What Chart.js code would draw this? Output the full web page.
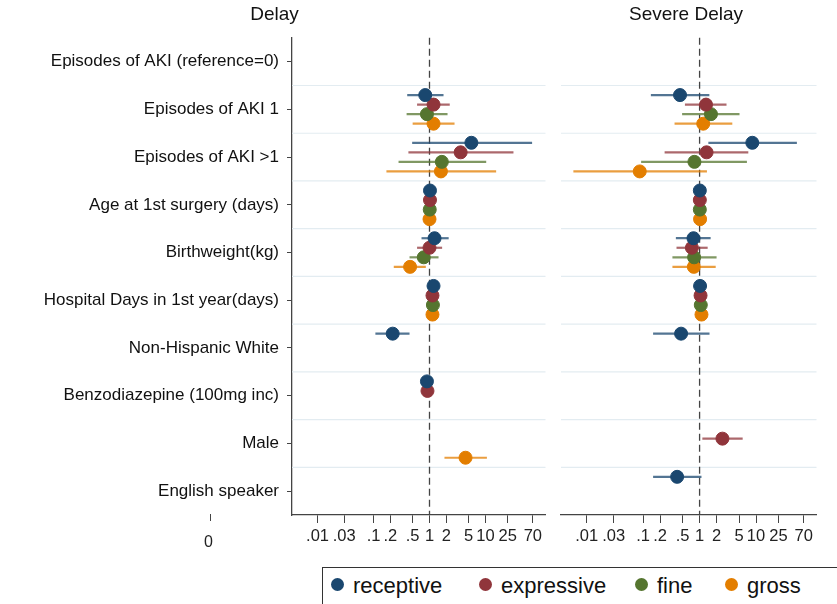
<!DOCTYPE html>
<html>
<head>
<meta charset="utf-8">
<script src="https://cdn.jsdelivr.net/npm/chart.js@4"></script>
<style>
  body { margin: 0; background: #fff; width: 837px; height: 604px; overflow: hidden; position: relative; font-family: "Liberation Sans", Arial, sans-serif; }
  canvas { position: absolute; top: 0; }
  #legend { position: absolute; left: 322px; top: 567px; width: 540px; height: 40px; border: 1px solid #333; box-sizing: border-box; font-size: 22px; color: #111; }
  #legend span.item { position: absolute; top: 5px; white-space: nowrap; }
  #legend i { display: inline-block; width: 13px; height: 13px; border-radius: 50%; margin-right: 9px; vertical-align: 2px; }
  #zero { position: absolute; left: 204px; top: 533px; font-size: 16px; color: #222; }
  #zerotick { position: absolute; left: 210px; top: 514px; width: 1px; height: 7px; background: #444; }
</style>
</head>
<body>
<canvas id="delayChart" width="553" height="560" style="left:0;width:553px;height:560px"></canvas>
<canvas id="severeChart" width="276" height="560" style="left:548px;width:276px;height:560px"></canvas>
<div id="zerotick"></div>
<div id="zero">0</div>
<div id="legend">
  <span class="item" style="left:8px"><i style="background:#1a476f"></i>receptive</span>
  <span class="item" style="left:156px"><i style="background:#90353b"></i>expressive</span>
  <span class="item" style="left:312px"><i style="background:#55752f"></i>fine</span>
  <span class="item" style="left:402px"><i style="background:#e37e00"></i>gross</span>
</div>
<script>
// Categorias (linhas)
const rows = ['Episodes of AKI (reference=0)', 'Episodes of AKI 1', 'Episodes of AKI >1',
  'Age at 1st surgery (days)', 'Birthweight(kg)', 'Hospital Days in 1st year(days)',
  'Non-Hispanic White', 'Benzodiazepine (100mg inc)', 'Male', 'English speaker'];
const xTicks = [0.01, 0.03, 0.1, 0.2, 0.5, 1, 2, 5, 10, 25, 70];
const seriesNames = ['receptive', 'expressive', 'fine', 'gross'];
const seriesColors = ['#1a476f', '#90353b', '#55752f', '#e37e00'];
const ciColors = ['rgba(26,71,111,0.75)', 'rgba(144,53,59,0.75)', 'rgba(85,117,47,0.75)', 'rgba(227,126,0,0.75)'];

// Delay: [estimativa, inferior, superior] por linha
const delayReceptive = [null, [0.84, 0.40, 1.78], [5.6, 0.49, 68], [1.02, 0.99, 1.05], [1.23, 0.72, 2.2], [1.18, 1.15, 1.21], [0.22, 0.108, 0.44], [0.90, 0.88, 0.92], null, null];
const delayExpressive = [null, [1.18, 0.60, 2.3], [3.6, 0.42, 31.6], [1.02, 0.99, 1.05], [1.0, 0.60, 1.68], [1.13, 1.10, 1.16], null, [0.92, 0.90, 0.94], null, null];
const delayFine = [null, [0.90, 0.39, 2.1], [1.66, 0.28, 10.3], [1.01, 0.98, 1.04], [0.79, 0.44, 1.45], [1.15, 1.12, 1.18], null, null, null, null];
const delayGross = [null, [1.18, 0.50, 2.8], [1.6, 0.17, 15.5], [1.0, 0.97, 1.03], [0.45, 0.23, 0.86], [1.13, 1.10, 1.16], null, null, [4.4, 1.85, 10.6], null];

// Severe Delay
const severeReceptive = [null, [0.45, 0.137, 1.49], [8.6, 1.43, 53], [1.01, 0.98, 1.04], [0.78, 0.38, 1.57], [1.02, 0.99, 1.05], [0.47, 0.15, 1.5], null, null, [0.40, 0.15, 1.08]];
const severeExpressive = [null, [1.3, 0.55, 3.0], [1.33, 0.24, 7.3], [1.01, 0.98, 1.04], [0.73, 0.39, 1.39], [1.04, 1.01, 1.07], null, null, [2.54, 1.12, 5.8], null];
const severeFine = [null, [1.59, 0.49, 5.1], [0.81, 0.092, 6.9], [1.01, 0.98, 1.04], [0.80, 0.33, 2.0], [1.05, 1.02, 1.08], null, null, null, null];
const severeGross = [null, [1.16, 0.36, 3.8], [0.087, 0.0058, 1.35], [1.02, 0.99, 1.05], [0.79, 0.33, 1.93], [1.08, 1.05, 1.11], null, null, null, null];

function buildDatasets(series) {
    return series.map((arr, s) => {
        const pts = [];
        arr.forEach((v, i) => {
            if (v) pts.push({ x: v[0], y: i + 0.2 * (s + 1), lo: v[1], hi: v[2] });
        });
        return {
            label: seriesNames[s],
            data: pts,
            backgroundColor: seriesColors[s],
            borderColor: seriesColors[s],
            pointRadius: 6.5,
            pointHoverRadius: 6.5,
            ciColor: ciColors[s]
        };
    });
}

// Linhas de separação, linha de referência em 1 e intervalos de confiança
const forestPlugin = {
    id: 'forest',
    beforeDatasetsDraw(chart) {
        const { ctx, chartArea, scales: { x, y } } = chart;
        ctx.save();
        ctx.strokeStyle = '#e3ecf1';
        ctx.lineWidth = 1.2;
        for (let i = 1; i < rows.length; i++) {
            const py = y.getPixelForValue(i);
            ctx.beginPath(); ctx.moveTo(chartArea.left, py); ctx.lineTo(chartArea.right, py); ctx.stroke();
        }
        ctx.strokeStyle = '#444';
        ctx.lineWidth = 1.3;
        ctx.setLineDash([7, 4]);
        const px = x.getPixelForValue(1);
        ctx.beginPath(); ctx.moveTo(px, chartArea.top); ctx.lineTo(px, chartArea.bottom); ctx.stroke();
        ctx.setLineDash([]);
        chart.data.datasets.forEach(ds => {
            ctx.strokeStyle = ds.ciColor;
            ctx.lineWidth = 2.2;
            ds.data.forEach(p => {
                const py = y.getPixelForValue(p.y);
                ctx.beginPath();
                ctx.moveTo(x.getPixelForValue(p.lo), py);
                ctx.lineTo(x.getPixelForValue(p.hi), py);
                ctx.stroke();
            });
        });
        ctx.restore();
    }
};

function makeChart(id, title, series, showLabels, yWidth, padRight) {
    return new Chart(document.getElementById(id), {
        type: 'scatter',
        data: { datasets: buildDatasets(series) },
        plugins: [forestPlugin],
        options: {
            responsive: false,
            animation: false,
            layout: { padding: { left: 0, right: padRight, top: 0, bottom: 0 } },
            plugins: {
                legend: { display: false },
                tooltip: { enabled: false },
                title: {
                    display: true, text: title, color: '#111',
                    font: { family: 'Liberation Sans', size: 19, weight: 'normal' },
                    padding: { top: 3, bottom: 12 }
                }
            },
            scales: {
                x: {
                    type: 'logarithmic',
                    min: 0.0035, max: 118,
                    afterBuildTicks: s => { s.ticks = xTicks.map(v => ({ value: v })); },
                    afterFit: s => { s.height = 45; },
                    ticks: {
                        autoSkip: false, maxRotation: 0, color: '#222', padding: 4,
                        font: { family: 'Liberation Sans', size: 16.5 },
                        callback: v => (v < 1 ? String(v).replace(/^0/, '') : String(v))
                    },
                    grid: { drawOnChartArea: false, tickLength: 8, color: '#444' },
                    border: { color: '#444', width: 1.3 }
                },
                y: {
                    min: 0, max: 10, reverse: true,
                    afterBuildTicks: s => { s.ticks = rows.map((r, i) => ({ value: i + 0.5 })); },
                    afterFit: s => { s.width = yWidth; },
                    ticks: {
                        display: showLabels, autoSkip: false, color: '#111', padding: 8,
                        font: { family: 'Liberation Sans', size: 17 },
                        callback: v => rows[Math.floor(v)]
                    },
                    grid: { display: showLabels, drawOnChartArea: false, tickLength: 5, color: '#444' },
                    border: { display: showLabels, color: '#444', width: 1.3 }
                }
            }
        }
    });
}

makeChart('delayChart', 'Delay', [delayReceptive, delayExpressive, delayFine, delayGross], true, 292, 4);
makeChart('severeChart', 'Severe Delay', [severeReceptive, severeExpressive, severeFine, severeGross], false, 13, 0);
</script>
</body>
</html>
